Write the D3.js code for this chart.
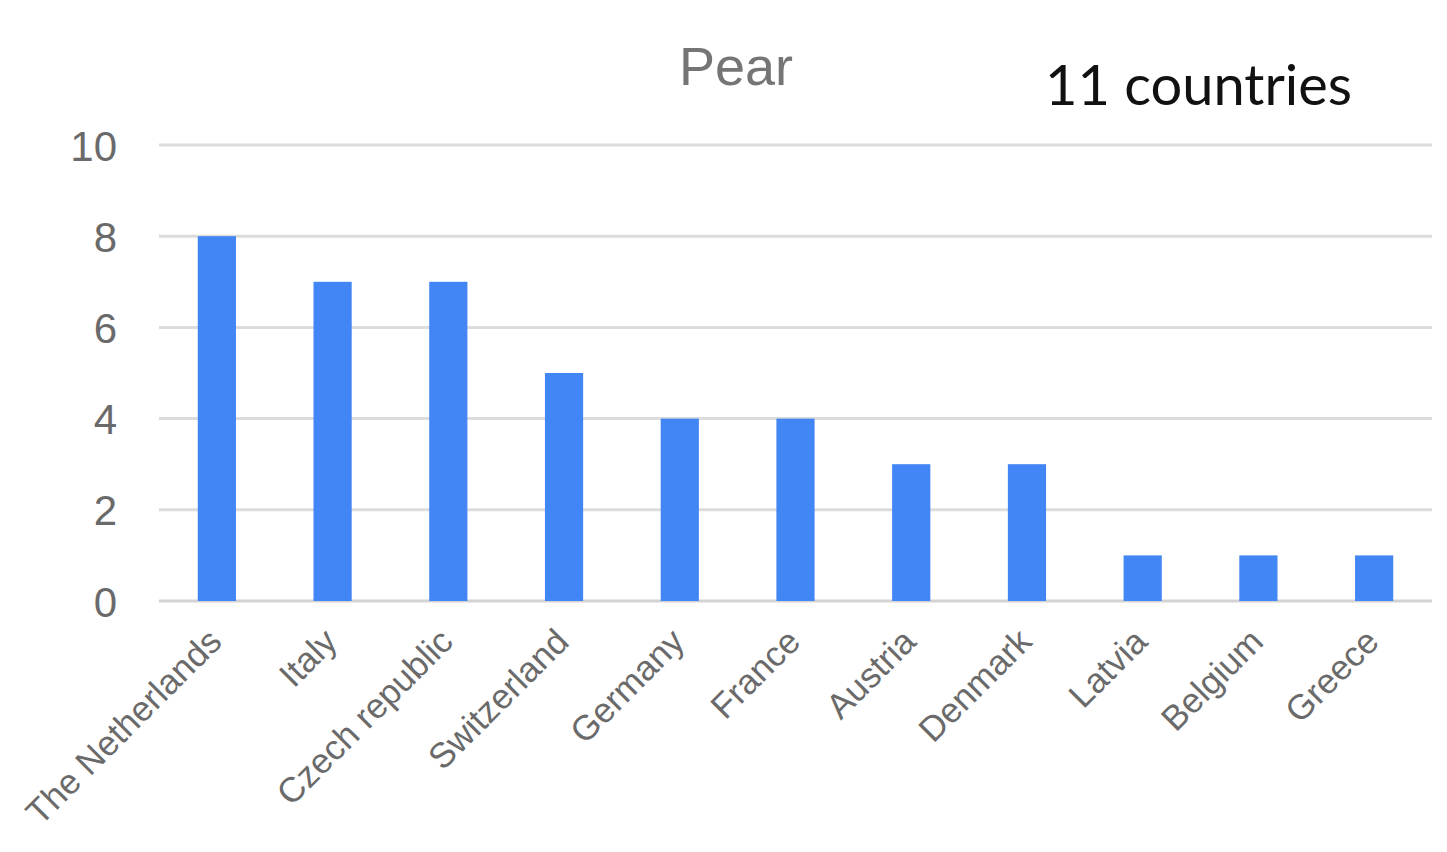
<!DOCTYPE html>
<html>
<head>
<meta charset="utf-8">
<script src="https://cdn.jsdelivr.net/npm/d3@7"></script>
<style>
  html, body { margin: 0; padding: 0; background: #fff; }
  svg { display: block; }
</style>
</head>
<body>
<svg id="chart" width="1447" height="852"></svg>
<script>
// Number of varieties per country
const countries = ["The Netherlands", "Italy", "Czech republic", "Switzerland", "Germany",
                   "France", "Austria", "Denmark", "Latvia", "Belgium", "Greece"];
const counts = [8, 7, 7, 5, 4, 4, 3, 3, 1, 1, 1];
const yTicks = [0, 2, 4, 6, 8, 10];
const chartTitle = "Pear";
const note = "11 countries";

const svg = d3.select("#chart");
const plot = { left: 159, right: 1432, top: 145, bottom: 601 };

const x = d3.scaleBand().domain(countries).range([plot.left, plot.right]).padding(0);
const y = d3.scaleLinear().domain([0, 10]).range([plot.bottom, plot.top]);
const barW = x.step() * 0.33;

// gridlines
svg.append("g")
  .selectAll("line")
  .data(yTicks)
  .join("line")
  .attr("x1", plot.left).attr("x2", plot.right)
  .attr("y1", d => y(d)).attr("y2", d => y(d))
  .attr("stroke", d => d === 0 ? "#d3d3d3" : "#dcdcdc")
  .attr("stroke-width", 3);

// y tick labels
const yAxis = d3.axisLeft(y).tickValues(yTicks).tickSize(0).tickPadding(0);
const gy = svg.append("g").attr("transform", `translate(${plot.left - 42},0)`).call(yAxis);
gy.select(".domain").remove();
gy.selectAll("text")
  .attr("font-family", "Arial, 'Liberation Sans', sans-serif")
  .attr("font-size", 42)
  .attr("fill", "#6a6a6a")
  .attr("dy", "0.36em");

// bars
svg.append("g")
  .selectAll("rect")
  .data(countries.map((c, i) => ({ c, v: counts[i] })))
  .join("rect")
  .attr("x", d => x(d.c) + x.bandwidth() / 2 - barW / 2)
  .attr("width", barW)
  .attr("y", d => y(d.v))
  .attr("height", d => y(0) - y(d.v))
  .attr("fill", "#4285f4");

// x category labels, rotated
const xAxis = d3.axisBottom(x).tickSize(0).tickPadding(0);
const gx = svg.append("g").attr("transform", `translate(0,${plot.bottom})`).call(xAxis);
gx.select(".domain").remove();
gx.selectAll("text")
  .attr("font-family", "Arial, 'Liberation Sans', sans-serif")
  .attr("font-size", 35)
  .attr("fill", "#6a6a6a")
  .attr("text-anchor", "end")
  .attr("dy", "0.35em")
  .attr("transform", "translate(-2,34) rotate(-45)");

// title
svg.append("text")
  .attr("x", 736).attr("y", 85)
  .attr("text-anchor", "middle")
  .attr("font-family", "Arial, 'Liberation Sans', sans-serif")
  .attr("font-size", 54)
  .attr("fill", "#757575")
  .text(chartTitle);

// annotation
svg.append("text")
  .attr("x", 1045).attr("y", 105)
  .attr("font-family", "Lato, 'Open Sans', sans-serif")
  .attr("font-size", 56)
  .attr("fill", "#111")
  .attr("textLength", 307)
  .attr("lengthAdjust", "spacingAndGlyphs")
  .text(note);
</script>
</body>
</html>
